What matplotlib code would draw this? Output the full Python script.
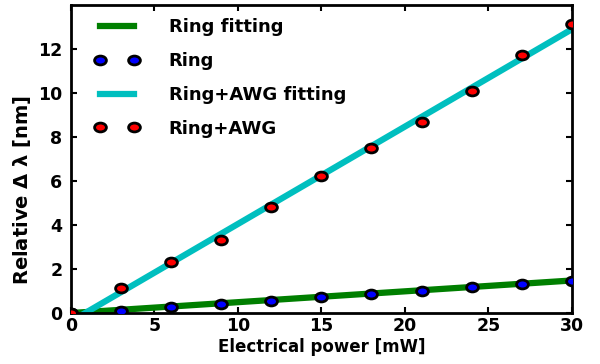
import numpy as np
import matplotlib
matplotlib.use("Agg")
import matplotlib.pyplot as plt
from matplotlib.path import Path
from matplotlib.transforms import Affine2D

plt.rcParams['font.family'] = ['DejaVu Sans']
plt.rcParams['font.weight'] = 'bold'
plt.rcParams['mathtext.fontset'] = 'dejavusans'

# data
power = [0, 3, 6, 9, 12, 15, 18, 21, 24, 27, 30]
ring = [0, 0.1, 0.28, 0.42, 0.57, 0.72, 0.87, 1.02, 1.18, 1.32, 1.47]
ring_awg = [0, 1.15, 2.33, 3.3, 4.82, 6.22, 7.5, 8.7, 10.1, 11.75, 13.15]

fit_x = [0, 30]
ring_fit = [0.0, 1.48]
ring_awg_fit = [-0.38, 12.9]

xticks = [0, 5, 10, 15, 20, 25, 30]
yticks = [0, 2, 4, 6, 8, 10, 12]

# squashed circle, the markers look wider than tall
ell = Path.unit_circle().transformed(Affine2D().scale(1.0, 0.75))

fig = plt.figure(figsize=(6, 3.64), dpi=100)
ax = fig.add_axes([0.118, 0.140, 0.835, 0.846])

ax.plot(fit_x, ring_fit, color='#007f00', lw=4.5, label='Ring fitting', zorder=2)
ax.plot(power, ring, ls='none', marker=ell, ms=8.5, mfc='#0000ff', mec='black',
        mew=2.0, label='Ring', zorder=3)
ax.plot(fit_x, ring_awg_fit, color='#00bfbf', lw=4.5, label='Ring+AWG fitting', zorder=2)
ax.plot(power, ring_awg, ls='none', marker=ell, ms=8.5, mfc='#ff0000', mec='black',
        mew=2.0, label='Ring+AWG', zorder=3)

ax.set_xlim(0, 30)
ax.set_ylim(0, 14)
ax.set_xticks(xticks)
ax.set_yticks(yticks)
ax.tick_params(direction='in', length=4, width=1.5, top=True, right=True,
               labelsize=12.5)
ax.tick_params(axis='x', pad=3)
ax.tick_params(axis='y', pad=6)
for lab in ax.get_xticklabels() + ax.get_yticklabels():
    lab.set_fontweight('bold')
for s in ax.spines.values():
    s.set_linewidth(2)

ax.set_xlabel('Electrical power [mW]', fontsize=12, fontweight='bold', labelpad=2)
ax.set_ylabel('Relative $\\Delta$ $\\mathbf{\\lambda}$ [nm]', fontsize=14,
              fontweight='bold')
ax.yaxis.set_label_coords(-0.076, 0.40)

ax.legend(loc='upper left', frameon=False, numpoints=2, fontsize=13,
          handlelength=2.5, handletextpad=1.6, labelspacing=0.87,
          borderaxespad=0.0, bbox_to_anchor=(0.033, 0.98))

fig.savefig('out.png', dpi=100)
